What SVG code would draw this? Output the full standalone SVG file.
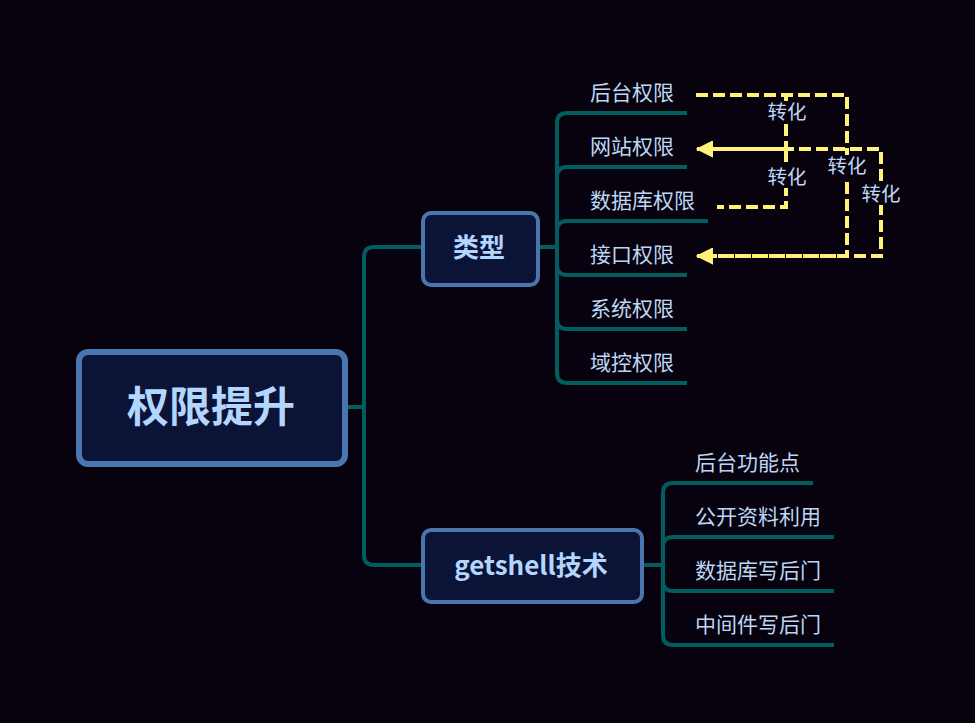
<svg xmlns="http://www.w3.org/2000/svg" width="975" height="723" viewBox="0 0 975 723">
  <defs>
    <marker id="arrow" viewBox="0 0 17 17" refX="16" refY="8.5" markerWidth="17" markerHeight="17" markerUnits="userSpaceOnUse" orient="auto">
      <path d="M0,0 L17,8.5 L0,17 z" fill="#fff27a"/>
    </marker>
    <style>
      .branch { fill: none; stroke: #005d60; stroke-width: 4; stroke-linecap: butt; }
      .rel { fill: none; stroke: #fff27a; stroke-width: 4; stroke-dasharray: 12 5; }
      .box { fill: #0b1436; stroke: #4a76b0; }
      .cjk { font-family: "Noto Sans CJK SC", "Noto Sans", sans-serif; }
      .leaf { font-size: 21px; fill: #bcd6f4; }
      .rel-label { font-size: 19.5px; fill: #bcd6f4; text-anchor: middle; }
      .rel-bg { fill: #07020d; }
      .title { font-weight: 700; fill: #b3d6ff; text-anchor: middle; }
    </style>
  </defs>

  <rect width="975" height="723" fill="#07020d"/>

  <!-- branch lines -->
  <g id="connectors">
    <!-- root to main topics -->
    <path class="branch" d="M346 407 H364"/>
    <path class="branch" d="M364 407 V257 Q364 247 374 247 H424"/>
    <path class="branch" d="M364 407 V555 Q364 565 374 565 H424"/>

    <!-- 类型 children -->
    <path class="branch" d="M537 247 H557"/>
    <path class="branch" d="M557 247 V123 Q557 113 567 113 H687"/>
    <path class="branch" d="M557 247 V177 Q557 167 567 167 H687"/>
    <path class="branch" d="M557 247 V231 Q557 221 567 221 H708"/>
    <path class="branch" d="M557 247 V265 Q557 275 567 275 H687"/>
    <path class="branch" d="M557 247 V319 Q557 329 567 329 H687"/>
    <path class="branch" d="M557 247 V373 Q557 383 567 383 H687"/>

    <!-- getshell技术 children -->
    <path class="branch" d="M641 565 H663"/>
    <path class="branch" d="M663 565 V493 Q663 483 673 483 H813"/>
    <path class="branch" d="M663 565 V547 Q663 537 673 537 H834"/>
    <path class="branch" d="M663 565 V581 Q663 591 673 591 H834"/>
    <path class="branch" d="M663 565 V635 Q663 645 673 645 H834"/>

    <!-- 转化 relationships -->
    <path class="rel" d="M696 95 H786 V149 H697" marker-end="url(#arrow)"/>
    <path class="rel" d="M717 207 H786 V149 H697" marker-end="url(#arrow)" stroke-dashoffset="5"/>
    <path class="rel" d="M696 95 H847 V256 H697" marker-end="url(#arrow)"/>
    <path class="rel" d="M697 149 H881 V256 H697" marker-end="url(#arrow)"/>

    <g class="cjk">
      <rect class="rel-bg" x="766" y="101" width="42" height="22"/>
      <text class="rel-label" x="787" y="119">转化</text>
      <rect class="rel-bg" x="766" y="166" width="42" height="22"/>
      <text class="rel-label" x="787" y="184">转化</text>
      <rect class="rel-bg" x="826" y="155" width="42" height="22"/>
      <text class="rel-label" x="847" y="173">转化</text>
      <rect class="rel-bg" x="860" y="183" width="42" height="22"/>
      <text class="rel-label" x="881" y="201">转化</text>
    </g>
  </g>

  <!-- root topic -->
  <g id="root">
    <rect class="box" x="79" y="352" width="266" height="112" rx="9" stroke-width="6"/>
    <text class="title cjk" x="211" y="422" font-size="42">权限提升</text>
  </g>

  <!-- main topics -->
  <g id="type">
    <rect class="box" x="423" y="213" width="115" height="72" rx="8" stroke-width="4"/>
    <text class="title cjk" x="479" y="257" font-size="26">类型</text>
  </g>
  <g id="getshell">
    <rect class="box" x="423" y="530" width="219" height="72" rx="8" stroke-width="4"/>
    <text class="title cjk" x="531" y="575" font-size="26">getshell技术</text>
  </g>

  <!-- 类型 subtopics -->
  <g id="backend-priv"><text class="leaf cjk" x="590" y="100">后台权限</text></g>
  <g id="site-priv"><text class="leaf cjk" x="590" y="154">网站权限</text></g>
  <g id="db-priv"><text class="leaf cjk" x="590" y="208">数据库权限</text></g>
  <g id="api-priv"><text class="leaf cjk" x="590" y="262">接口权限</text></g>
  <g id="sys-priv"><text class="leaf cjk" x="590" y="316">系统权限</text></g>
  <g id="dc-priv"><text class="leaf cjk" x="590" y="370">域控权限</text></g>

  <!-- getshell技术 subtopics -->
  <g id="backend-func"><text class="leaf cjk" x="695" y="470">后台功能点</text></g>
  <g id="public-info"><text class="leaf cjk" x="695" y="524">公开资料利用</text></g>
  <g id="db-backdoor"><text class="leaf cjk" x="695" y="578">数据库写后门</text></g>
  <g id="mw-backdoor"><text class="leaf cjk" x="695" y="632">中间件写后门</text></g>
</svg>
